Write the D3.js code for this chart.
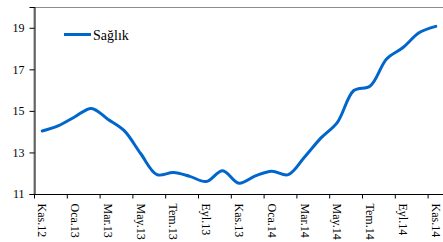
<!DOCTYPE html>
<html>
<head>
<meta charset="utf-8">
<script src="https://cdn.jsdelivr.net/npm/d3@7"></script>
<style>
  body { margin: 0; background: #fff; }
  svg { display: block; font-family: "Liberation Serif", "Times New Roman", serif; }
</style>
</head>
<body>
<svg id="chart" width="443" height="242"></svg>
<script>
// months Kas.12 .. Kas.14
const months = ["Kas.12","Ara.12","Oca.13","Şub.13","Mar.13","Nis.13","May.13","Haz.13","Tem.13","Ağu.13",
  "Eyl.13","Eki.13","Kas.13","Ara.13","Oca.14","Şub.14","Mar.14","Nis.14","May.14","Haz.14",
  "Tem.14","Ağu.14","Eyl.14","Eki.14","Kas.14"];
const saglik = [14.03, 14.29, 14.72, 15.12, 14.6, 14.05, 12.95, 11.93, 12.03, 11.85,
  11.6, 12.12, 11.52, 11.87, 12.1, 11.93, 12.78, 13.7, 14.45, 15.98,
  16.2, 17.5, 18.05, 18.77, 19.07];
const yTicks = [11, 13, 15, 17, 19];
const seriesName = "Sağlık";

const svg = d3.select("#chart");
const plotLeft = 34, plotTop = 7, plotBottom = 194, plotRight = 444;

const x = d3.scaleBand().domain(months).range([plotLeft, plotRight]);
const y = d3.scaleLinear().domain([11, 20]).range([plotBottom, plotTop]);

// plot frame
svg.append("rect")
  .attr("x", plotLeft).attr("y", plotTop + 0.5)
  .attr("width", plotRight - plotLeft).attr("height", plotBottom - plotTop)
  .attr("fill", "none").attr("stroke", "#8c8c8c").attr("stroke-width", 1);

// y axis
const yAxis = svg.append("g")
  .attr("transform", "translate(" + (plotLeft + 0.5) + ",0)")
  .call(d3.axisLeft(y).tickValues(yTicks).tickSize(5).tickPadding(5));
yAxis.select(".domain").attr("stroke", "#000");
yAxis.selectAll("line").attr("stroke", "#000");
yAxis.selectAll("text").style("font-size", "12px").style("font-family", "Liberation Serif").attr("fill", "#000");

// x axis: tick every 2 months on band edges
const xAxis = svg.append("g").attr("transform", "translate(0," + (plotBottom + 0.5) + ")");
xAxis.append("line").attr("x1", plotLeft).attr("x2", plotRight).attr("stroke", "#000");
const labelled = months.filter((d, i) => i % 2 === 0);
xAxis.selectAll(".tk").data(labelled).enter().append("line")
  .attr("x1", d => x(d) + 0.5).attr("x2", d => x(d) + 0.5)
  .attr("y1", 0).attr("y2", 4).attr("stroke", "#000");
xAxis.selectAll(".lbl").data(labelled).enter().append("text")
  .attr("transform", d => "translate(" + (x(d) + x.bandwidth() / 2) + ",9) rotate(90)")
  .attr("text-anchor", "start")
  .attr("dy", "0.33em")
  .style("font-size", "12px")
  .text(d => d);

// line
const line = d3.line()
  .x((d, i) => x(months[i]) + x.bandwidth() / 2)
  .y(d => y(d))
  .curve(d3.curveCatmullRom);

svg.append("path")
  .datum(saglik)
  .attr("d", line)
  .attr("fill", "none")
  .attr("stroke", "#0066cc")
  .attr("stroke-width", 3)
  .attr("stroke-linecap", "round");

// legend
svg.append("line")
  .attr("x1", 64).attr("x2", 91).attr("y1", 34.5).attr("y2", 34.5)
  .attr("stroke", "#0066cc").attr("stroke-width", 3);
svg.append("text")
  .attr("x", 93).attr("y", 39.5)
  .style("font-size", "14px")
  .text(seriesName);
</script>
</body>
</html>
